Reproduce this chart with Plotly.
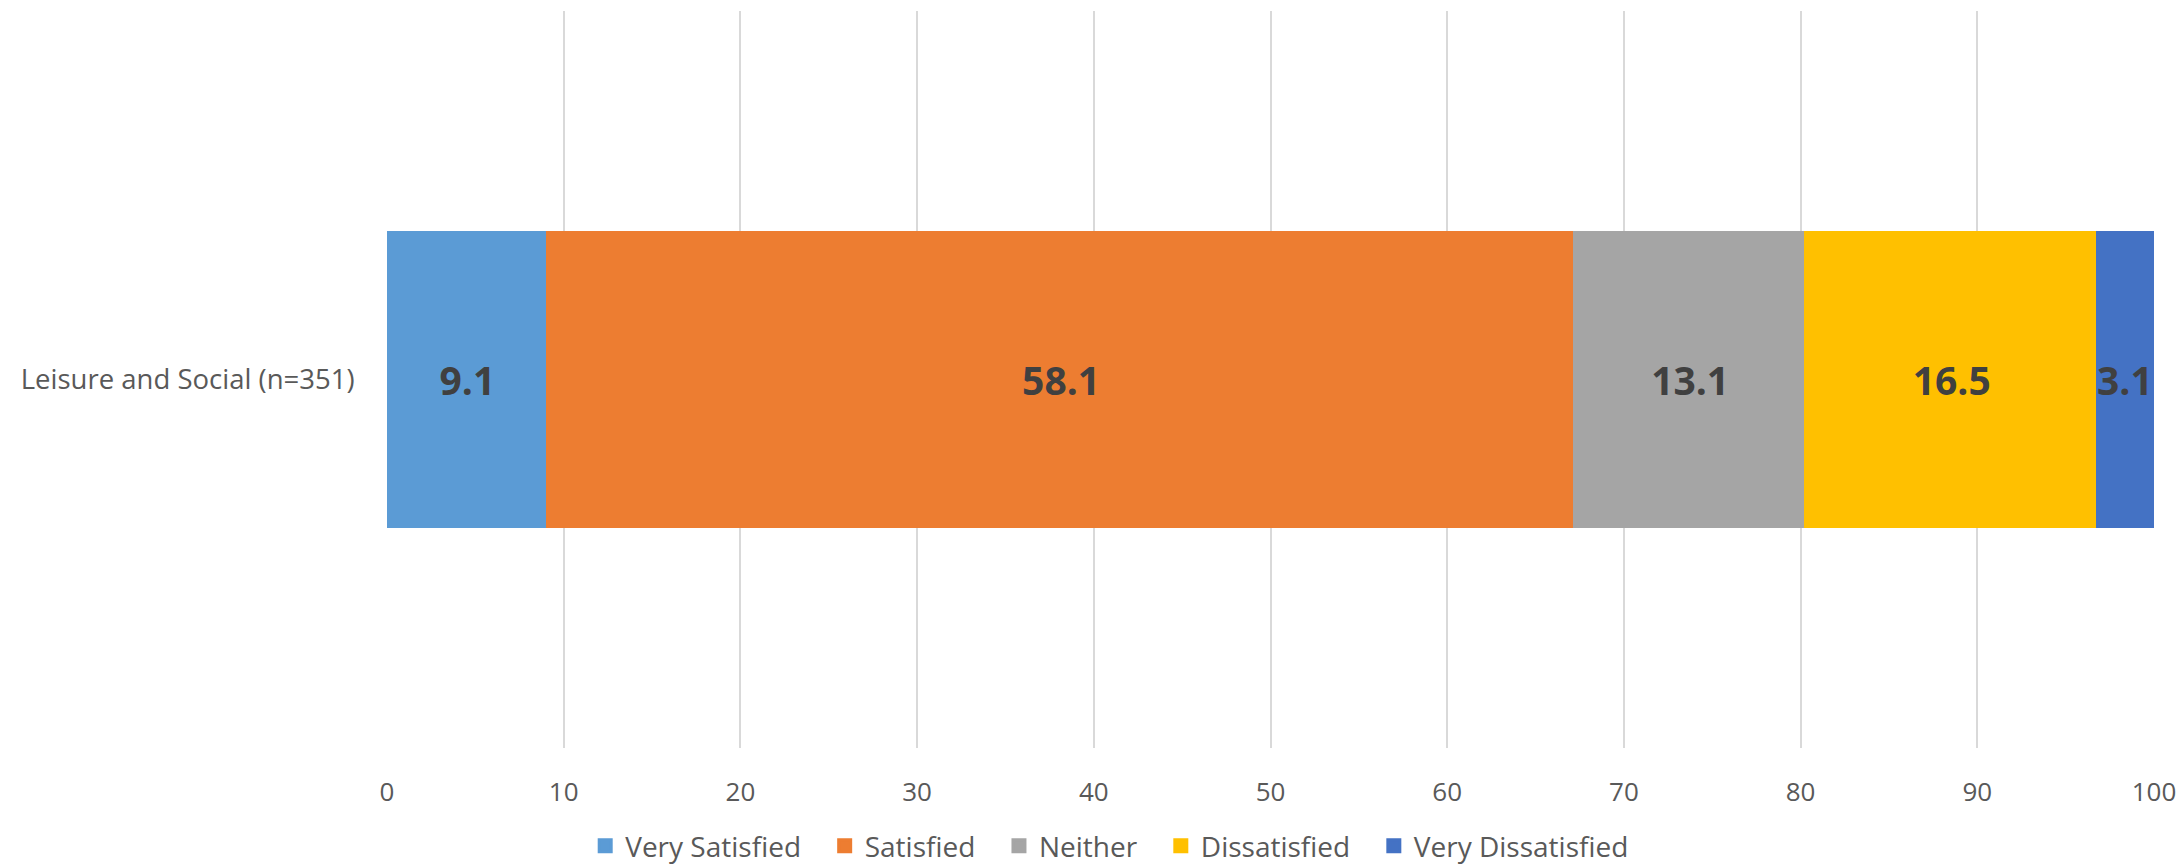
import plotly.graph_objects as go

# Satisfaction breakdown for a single respondent group
category = ["Leisure and Social (n=351)"]
series_names = ["Very Satisfied", "Satisfied", "Neither", "Dissatisfied", "Very Dissatisfied"]
series_values = [9.1, 58.1, 13.1, 16.5, 3.1]
series_colors = ["#5B9BD5", "#ED7D31", "#A5A5A5", "#FFC000", "#4472C4"]
x_ticks = [0, 10, 20, 30, 40, 50, 60, 70, 80, 90, 100]

FONT = "Open Sans"
TEXT_GREY = "#595959"
# extra breathing room after each legend entry (except the last)
LEGEND_PAD = "\u2002\u2009"

fig = go.Figure()
for i, (name, val, col) in enumerate(zip(series_names, series_values, series_colors)):
    pad = LEGEND_PAD if i < len(series_names) - 1 else ""
    fig.add_trace(go.Bar(
        name=name + pad,
        y=category,
        x=[val],
        orientation="h",
        marker=dict(color=col, line=dict(width=3, color=col)),
        text=[f"{val:.1f}"],
        textposition="inside",
        insidetextanchor="middle",
        textangle=0,
        constraintext="none",
        cliponaxis=False,
        textfont=dict(family=FONT, size=39, color="#404040", weight="bold"),
        hovertemplate=name + ": %{x}<extra></extra>",
    ))

fig.update_layout(
    barmode="stack",
    bargap=0.6,
    autosize=False,
    width=2183,
    height=868,
    margin=dict(l=387, r=29, t=11, b=120, autoexpand=False),
    paper_bgcolor="white",
    plot_bgcolor="white",
    font=dict(family=FONT, color=TEXT_GREY),
    showlegend=True,
    legend=dict(
        orientation="h",
        x=0.409,
        xanchor="center",
        y=-0.133,
        yanchor="middle",
        font=dict(family=FONT, size=28, color=TEXT_GREY),
        itemwidth=30,
        traceorder="normal",
    ),
    xaxis=dict(
        range=[0, 100],
        tickvals=x_ticks,
        showgrid=True,
        gridcolor="#D9D9D9",
        gridwidth=2,
        zeroline=False,
        showline=False,
        ticks="outside",
        ticklen=21,
        tickcolor="rgba(0,0,0,0)",
        tickfont=dict(family=FONT, size=26, color=TEXT_GREY),
        fixedrange=True,
    ),
    yaxis=dict(
        showgrid=False,
        zeroline=False,
        showline=False,
        ticks="outside",
        ticklen=26,
        tickcolor="rgba(0,0,0,0)",
        tickfont=dict(family=FONT, size=27.5, color=TEXT_GREY),
        fixedrange=True,
    ),
)

fig.write_html("out.html")
